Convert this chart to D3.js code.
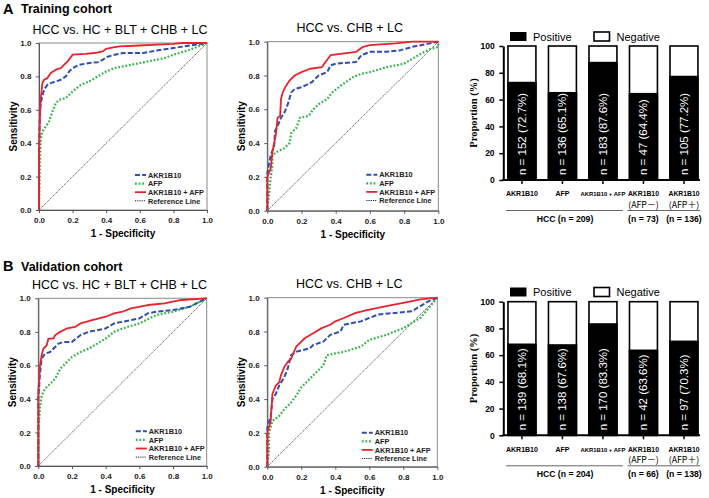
<!DOCTYPE html>
<html><head><meta charset="utf-8">
<script src="https://cdn.jsdelivr.net/npm/d3@7"></script>
<style>
html,body{margin:0;padding:0;background:#fff;}
svg{display:block;font-family:Arial,"Liberation Sans",sans-serif;}
</style></head>
<body><svg id="c" width="709" height="498"></svg>
<script>
// ---------- DATA ----------
const panelHeaders = [["A","Training cohort"],["B","Validation cohort"]];
const rocTitles = ["HCC vs. HC + BLT + CHB + LC","HCC vs. CHB + LC","HCC vs. HC + BLT + CHB + LC","HCC vs. CHB + LC"];
const seriesNames = ["AKR1B10","AFP","AKR1B10 + AFP","Reference Line"];
const rocTicks = [0,0.2,0.4,0.6,0.8,1.0];

// Training, HCC vs. HC + BLT + CHB + LC  ([1-specificity, sensitivity])
const trainAllAKR = [[0,0],[0,0.35],[0.005,0.58],[0.01,0.64],[0.02,0.68],[0.03,0.72],[0.05,0.75],[0.07,0.76],[0.1,0.77],[0.13,0.78],[0.16,0.8],[0.18,0.83],[0.2,0.85],[0.24,0.87],[0.3,0.88],[0.35,0.885],[0.38,0.9],[0.4,0.915],[0.45,0.93],[0.5,0.94],[0.62,0.94],[0.7,0.955],[0.8,0.97],[0.9,0.985],[1,1]];
const trainAllAFP = [[0,0],[0.005,0.25],[0.01,0.42],[0.02,0.47],[0.04,0.5],[0.06,0.53],[0.08,0.59],[0.1,0.64],[0.12,0.66],[0.16,0.67],[0.2,0.71],[0.25,0.75],[0.3,0.77],[0.35,0.8],[0.4,0.83],[0.45,0.85],[0.5,0.86],[0.6,0.88],[0.7,0.9],[0.75,0.91],[0.8,0.93],[0.9,0.96],[0.95,0.98],[1,1]];
const trainAllCombo = [[0,0],[0,0.3],[0.005,0.55],[0.01,0.66],[0.02,0.76],[0.03,0.78],[0.05,0.79],[0.07,0.82],[0.1,0.84],[0.13,0.85],[0.15,0.87],[0.17,0.89],[0.2,0.93],[0.28,0.935],[0.33,0.94],[0.38,0.95],[0.4,0.965],[0.45,0.975],[0.48,0.98],[0.6,0.985],[0.7,0.99],[0.8,0.995],[0.85,1],[1,1]];

// Training, HCC vs. CHB + LC
const trainSubAKR = [[0,0],[0,0.22],[0.02,0.33],[0.04,0.38],[0.045,0.47],[0.06,0.5],[0.08,0.55],[0.1,0.58],[0.12,0.63],[0.14,0.7],[0.16,0.72],[0.2,0.73],[0.26,0.76],[0.3,0.8],[0.35,0.82],[0.37,0.86],[0.4,0.87],[0.52,0.88],[0.55,0.92],[0.6,0.94],[0.7,0.94],[0.78,0.95],[0.85,0.97],[0.95,0.99],[1,1]];
const trainSubAFP = [[0,0],[0.01,0.1],[0.02,0.2],[0.03,0.27],[0.03,0.33],[0.06,0.35],[0.1,0.37],[0.13,0.4],[0.14,0.46],[0.17,0.49],[0.19,0.55],[0.24,0.56],[0.27,0.6],[0.3,0.63],[0.35,0.66],[0.38,0.7],[0.43,0.74],[0.5,0.79],[0.55,0.81],[0.6,0.82],[0.7,0.85],[0.8,0.87],[0.85,0.9],[0.9,0.93],[0.95,0.955],[1,0.97],[1,1]];
const trainSubCombo = [[0,0],[0,0.2],[0.02,0.25],[0.03,0.35],[0.05,0.45],[0.06,0.55],[0.075,0.56],[0.08,0.66],[0.09,0.7],[0.11,0.74],[0.13,0.77],[0.16,0.8],[0.2,0.82],[0.25,0.84],[0.32,0.85],[0.34,0.88],[0.37,0.92],[0.52,0.94],[0.56,0.97],[0.6,0.98],[0.75,0.99],[0.85,1],[1,1]];

// Validation, HCC vs. HC + BLT + CHB + LC
const validAllAKR = [[0,0],[0,0.4],[0.01,0.55],[0.02,0.64],[0.04,0.67],[0.07,0.68],[0.1,0.71],[0.12,0.73],[0.15,0.74],[0.2,0.74],[0.25,0.78],[0.3,0.8],[0.4,0.82],[0.45,0.85],[0.55,0.87],[0.6,0.88],[0.65,0.91],[0.7,0.92],[0.8,0.93],[0.9,0.95],[1,1]];
const validAllAFP = [[0,0],[0,0.2],[0.01,0.35],[0.02,0.42],[0.04,0.46],[0.07,0.49],[0.1,0.52],[0.13,0.58],[0.17,0.62],[0.2,0.65],[0.25,0.68],[0.3,0.7],[0.35,0.73],[0.4,0.76],[0.45,0.8],[0.5,0.82],[0.6,0.85],[0.7,0.9],[0.8,0.92],[0.9,0.95],[1,1]];
const validAllCombo = [[0,0],[0,0.45],[0.01,0.6],[0.02,0.66],[0.03,0.7],[0.05,0.72],[0.06,0.76],[0.09,0.76],[0.1,0.78],[0.13,0.8],[0.17,0.82],[0.22,0.83],[0.25,0.85],[0.32,0.87],[0.4,0.89],[0.45,0.91],[0.5,0.92],[0.55,0.94],[0.65,0.96],[0.75,0.97],[0.85,0.99],[1,1]];

// Validation, HCC vs. CHB + LC
const validSubAKR = [[0,0],[0,0.23],[0.02,0.3],[0.03,0.4],[0.05,0.43],[0.07,0.48],[0.1,0.53],[0.12,0.58],[0.14,0.66],[0.17,0.68],[0.25,0.7],[0.27,0.72],[0.33,0.74],[0.37,0.78],[0.43,0.8],[0.45,0.84],[0.55,0.86],[0.65,0.9],[0.75,0.91],[0.85,0.92],[0.9,0.95],[0.95,0.98],[1,1]];
const validSubAFP = [[0,0],[0.01,0.1],[0.01,0.2],[0.03,0.27],[0.07,0.3],[0.1,0.34],[0.14,0.38],[0.17,0.42],[0.2,0.47],[0.25,0.52],[0.3,0.57],[0.33,0.6],[0.35,0.66],[0.45,0.68],[0.55,0.71],[0.6,0.75],[0.7,0.78],[0.8,0.82],[0.9,0.88],[0.95,0.94],[1,1]];
const validSubCombo = [[0,0],[0,0.2],[0.02,0.27],[0.03,0.43],[0.05,0.48],[0.07,0.5],[0.08,0.54],[0.1,0.59],[0.12,0.62],[0.14,0.64],[0.17,0.71],[0.22,0.76],[0.27,0.79],[0.32,0.82],[0.37,0.84],[0.4,0.86],[0.45,0.88],[0.52,0.91],[0.6,0.93],[0.7,0.95],[0.8,0.97],[0.9,0.99],[1,1]];

// Bar charts
const barCategories = ["AKR1B10","AFP","AKR1B10 + AFP","AKR1B10|(AFP－)","AKR1B10|(AFP＋)"];
const barTicks = [0,20,40,60,80,100];
const trainPositivePct = [72.7,65.1,87.6,64.4,77.2];
const trainPositiveN = [152,136,183,47,105];
const validPositivePct = [68.1,67.6,83.3,63.6,70.3];
const validPositiveN = [139,138,170,42,97];
const trainGroupLabels = ["HCC (n = 209)","(n = 73)","(n = 136)"];
const validGroupLabels = ["HCC (n = 204)","(n = 66)","(n = 138)"];
const barLegend = ["Positive","Negative"];

// ---------- DRAW ----------
const svg = d3.select("#c");
const FONT = 'Arial,"Liberation Sans",sans-serif';
const colors = {akr:"#2f4fb0", afp:"#33b44a", combo:"#e8232b", ref:"#222"};

// panel headers
[[3,13.5],[3,271]].forEach((p,i)=>{
  svg.append("text").attr("x",p[0]).attr("y",p[1]).attr("font-size",14.5).attr("font-weight","bold").text(panelHeaders[i][0]);
  svg.append("text").attr("x",p[0]+18).attr("y",p[1]-0.5).attr("font-size",12.5).attr("font-weight","bold").text(panelHeaders[i][1]);
});

const rocPanels = [
  {x0:39,y0:43,w:168,h:167,title:rocTitles[0],s:[trainAllAKR,trainAllAFP,trainAllCombo],leg:[96,132]},
  {x0:267.3,y0:41.7,w:171,h:169,title:rocTitles[1],s:[trainSubAKR,trainSubAFP,trainSubCombo],leg:[99,133]},
  {x0:38.3,y0:298.3,w:168.4,h:167.7,title:rocTitles[2],s:[validAllAKR,validAllAFP,validAllCombo],leg:[97.5,133]},
  {x0:267.3,y0:297.7,w:170,h:169,title:rocTitles[3],s:[validSubAKR,validSubAFP,validSubCombo],leg:[94.5,135]}
];

const styles = [
  {c:colors.akr, w:2, d:"5,2.2"},
  {c:colors.afp, w:2.2, d:"1.8,1.8"},
  {c:colors.combo, w:1.8, d:null},
  {c:colors.ref, w:0.8, d:"1.2,1"}
];

rocPanels.forEach(p=>{
  const g = svg.append("g").attr("transform",`translate(${p.x0},${p.y0})`);
  const x = d3.scaleLinear().domain([0,1]).range([0,p.w]);
  const y = d3.scaleLinear().domain([0,1]).range([p.h,0]);
  svg.append("text").attr("x",p.x0+p.w/2-3).attr("y",p.y0-9.5).attr("text-anchor","middle")
    .attr("font-size",12.5).text(p.title);
  g.append("rect").attr("x",0).attr("y",0).attr("width",p.w).attr("height",p.h)
    .attr("fill","none").attr("stroke","#8a8a8a").attr("stroke-width",1);
  const xa = g.append("g").attr("transform",`translate(0,${p.h})`)
    .call(d3.axisBottom(x).tickValues(rocTicks).tickFormat(d3.format(".1f")).tickSize(3).tickSizeOuter(0));
  const ya = g.append("g").call(d3.axisLeft(y).tickValues(rocTicks).tickFormat(d3.format(".1f")).tickSize(3).tickSizeOuter(0));
  [xa,ya].forEach(a=>{
    a.select(".domain").attr("stroke","#555");
    a.selectAll(".tick line").attr("stroke","#555");
    a.selectAll("text").attr("font-size",8).attr("font-weight","bold").attr("font-family",FONT).attr("fill","#222");
  });
  xa.selectAll("text").attr("dy","0.9em");
  ya.selectAll("text").attr("dx","-0.2em");
  g.append("text").attr("x",p.w/2).attr("y",p.h+27).attr("text-anchor","middle")
    .attr("font-size",10).attr("font-weight","bold").text("1 - Specificity");
  g.append("text").attr("transform",`translate(${-22},${p.h/2}) rotate(-90)`).attr("text-anchor","middle")
    .attr("font-size",10).attr("font-weight","bold").text("Sensitivity");
  const line = d3.line().x(d=>x(d[0])).y(d=>y(d[1]));
  g.append("path").datum([[0,0],[1,1]]).attr("d",line).attr("fill","none")
    .attr("stroke",styles[3].c).attr("stroke-width",styles[3].w).attr("stroke-dasharray",styles[3].d);
  [1,0,2].forEach(i=>{
    g.append("path").datum(p.s[i]).attr("d",line).attr("fill","none")
      .attr("stroke",styles[i].c).attr("stroke-width",styles[i].w)
      .attr("stroke-dasharray",styles[i].d).attr("stroke-linejoin","round");
  });
  const lg = g.append("g").attr("transform",`translate(${p.leg[0]},${p.leg[1]})`);
  seriesNames.forEach((n,i)=>{
    const yy = i*8.6;
    lg.append("line").attr("x1",0).attr("x2",11).attr("y1",yy).attr("y2",yy)
      .attr("stroke",styles[i].c).attr("stroke-width",i===3?1:styles[i].w).attr("stroke-dasharray",styles[i].d);
    lg.append("text").attr("x",13).attr("y",yy+2.7).attr("font-size",7.3).attr("font-weight","bold")
      .attr("fill","#222").text(n);
  });
});

// bar charts
const barPanels = [
  {y100:46,y0:180,pct:trainPositivePct,n:trainPositiveN,groups:trainGroupLabels,legY:36.5},
  {y100:301.7,y0:435.3,pct:validPositivePct,n:validPositiveN,groups:validGroupLabels,legY:292}
];
barPanels.forEach(b=>{
  const xb = d3.scaleBand().domain(barCategories).range([503.3,702.6]).paddingInner(0.31).paddingOuter(0.115);
  const yb = d3.scaleLinear().domain([0,100]).range([b.y0,b.y100]);
  const g = svg.append("g");
  barCategories.forEach((c,i)=>{
    g.append("rect").attr("x",xb(c)).attr("y",yb(100)).attr("width",xb.bandwidth()).attr("height",yb(0)-yb(100))
      .attr("fill","#fff").attr("stroke","#000").attr("stroke-width",1.6);
    g.append("rect").attr("x",xb(c)).attr("y",yb(b.pct[i])).attr("width",xb.bandwidth()).attr("height",yb(0)-yb(b.pct[i]))
      .attr("fill","#000").attr("stroke","#000").attr("stroke-width",1.6);
    const cx = xb(c)+xb.bandwidth()/2;
    g.append("text").attr("transform",`translate(${cx+4},${b.y0-5}) rotate(-90)`)
      .attr("fill","#fff").attr("font-size",11.5).text(`n = ${b.n[i]} (${b.pct[i]}%)`);
  });
  const ya = g.append("g").attr("transform","translate(503.3,0)")
    .call(d3.axisLeft(yb).tickValues(barTicks).tickSize(4).tickSizeOuter(0));
  ya.select(".domain").attr("stroke-width",2);
  ya.selectAll(".tick line").attr("stroke-width",1.5);
  ya.selectAll("text").attr("font-size",8.5).attr("font-weight","bold").attr("font-family",FONT).attr("dx","-0.2em");
  const xa = g.append("g").attr("transform",`translate(0,${b.y0})`)
    .call(d3.axisBottom(xb).tickSize(4).tickSizeOuter(0).tickFormat(""));
  xa.select(".domain").attr("stroke-width",2).attr("d",`M502.3,0H700`);
  xa.selectAll(".tick line").attr("stroke-width",1.5);
  barCategories.forEach((c,i)=>{
    const cx = xb(c)+xb.bandwidth()/2;
    const parts = c.split("|");
    g.append("text").attr("x",cx).attr("y",b.y0+16.2).attr("text-anchor","middle")
      .attr("font-size",i===2?5.9:(i>2?6.8:7)).attr("font-weight","bold").text(parts[0]);
    if(parts[1]) g.append("text").attr("x",cx).attr("y",b.y0+27.8).attr("text-anchor","middle")
      .attr("font-size",8.8).attr("fill","#000").attr("font-family",'"Noto Sans CJK SC",Arial,sans-serif').text(parts[1]);
  });
  const gx1 = xb(barCategories[0])-2, gx2 = xb(barCategories[2])+xb.bandwidth()+6;
  const hx1 = xb(barCategories[3])-2, hx2 = 700;
  g.append("line").attr("x1",gx1).attr("x2",gx2).attr("y1",b.y0+30.5).attr("y2",b.y0+30.5).attr("stroke","#666").attr("stroke-width",1);
  g.append("line").attr("x1",hx1).attr("x2",hx2).attr("y1",b.y0+30.5).attr("y2",b.y0+30.5).attr("stroke","#666").attr("stroke-width",1);
  g.append("text").attr("x",565).attr("y",b.y0+42).attr("text-anchor","middle").attr("font-size",8.7).attr("font-weight","bold").text(b.groups[0]);
  g.append("text").attr("x",xb(barCategories[3])+xb.bandwidth()/2).attr("y",b.y0+42).attr("text-anchor","middle").attr("font-size",8.7).attr("font-weight","bold").text(b.groups[1]);
  g.append("text").attr("x",xb(barCategories[4])+xb.bandwidth()/2).attr("y",b.y0+42).attr("text-anchor","middle").attr("font-size",8.7).attr("font-weight","bold").text(b.groups[2]);
  g.append("text").attr("transform",`translate(476.5,${(b.y0+b.y100)/2}) rotate(-90)`).attr("text-anchor","middle")
    .attr("font-family",'"Liberation Serif","Times New Roman",serif').attr("font-weight","bold").attr("font-size",10.5)
    .text("Proportion (%)");
  g.append("rect").attr("x",510).attr("y",b.legY-4.5).attr("width",16.5).attr("height",9).attr("fill","#000");
  g.append("text").attr("x",533).attr("y",b.legY+4).attr("font-size",11).text(barLegend[0]);
  g.append("rect").attr("x",594).attr("y",b.legY-4.5).attr("width",15.5).attr("height",9).attr("fill","#fff").attr("stroke","#000").attr("stroke-width",1.6);
  g.append("text").attr("x",616.5).attr("y",b.legY+4).attr("font-size",11).text(barLegend[1]);
});
</script></body></html>
